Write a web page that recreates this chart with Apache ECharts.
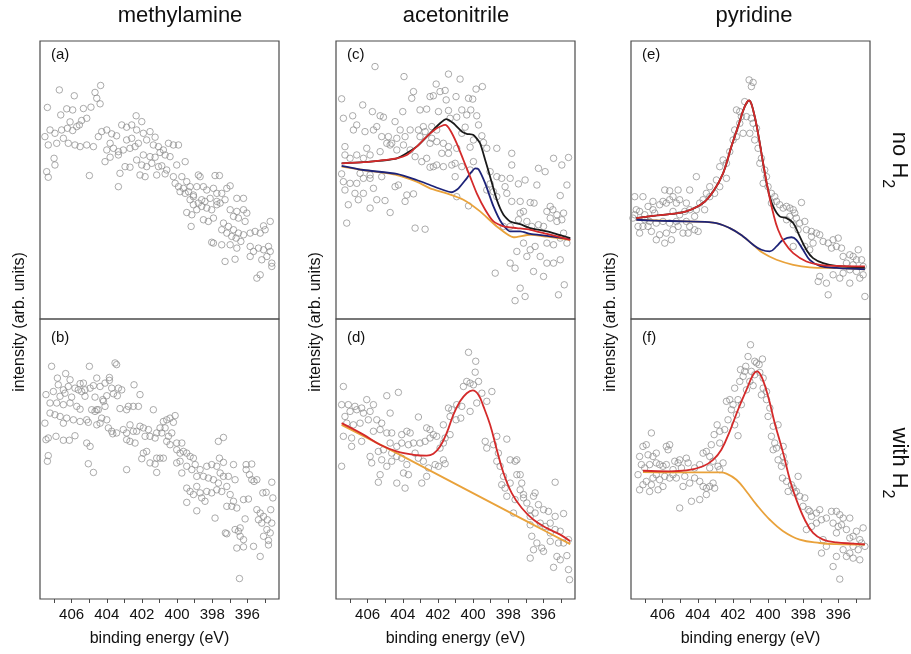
<!DOCTYPE html>
<html>
<head>
<meta charset="utf-8">
<script src="https://cdn.jsdelivr.net/npm/echarts@6/dist/echarts.min.js"></script>
<style>
  html, body { margin: 0; background: #fff; }
  #chart { width: 911px; height: 654px; }
</style>
</head>
<body>
<div id="chart"></div>
<script>
// binding energy axis (eV), drawn high -> low
const xMin = 394.2;
const xMax = 407.8;
const tickLabels = [396, 398, 400, 402, 404, 406];
const tickMarks = [395, 396, 397, 398, 399, 400, 401, 402, 403, 404, 405, 406, 407];
const columnTitles = ['methylamine', 'acetonitrile', 'pyridine'];
const panelLetters = ['(a)', '(b)', '(c)', '(d)', '(e)', '(f)'];
const rowLabels = ['no H', 'with H'];

// measured points [binding energy, intensity] per panel
const pointsA = [[406.70,82.4],[407.38,76.1],[405.85,80.3],[404.67,81.5],[404.35,84.0],[404.57,79.4],[404.38,77.4],[406.62,73.4],[406.28,75.6],[405.94,75.2],[405.33,75.7],[404.90,76.2],[405.14,72.2],[405.43,71.4],[405.56,69.8],[405.71,69.2],[406.09,70.9],[407.23,68.0],[406.95,66.8],[406.57,68.0],[406.24,68.6],[405.94,67.8],[407.52,65.6],[407.33,62.6],[406.85,63.2],[406.47,65.0],[406.19,63.2],[405.81,62.6],[405.52,62.0],[405.14,62.6],[404.76,62.0],[404.48,65.6],[404.29,67.4],[404.00,68.0],[403.72,66.6],[403.44,65.9],[403.15,69.8],[402.87,69.0],[402.58,69.8],[402.33,73.1],[402.01,71.0],[402.30,68.0],[401.92,66.8],[401.54,67.4],[401.25,65.4],[402.87,64.4],[402.58,65.0],[402.20,63.2],[403.81,63.2],[404.00,60.8],[403.62,61.4],[403.34,60.2],[403.06,60.8],[402.68,61.4],[402.39,62.0],[401.73,64.4],[401.35,62.6],[401.06,62.0],[400.78,60.8],[400.49,63.2],[400.21,62.6],[399.92,62.6],[400.68,59.0],[400.97,59.9],[401.25,58.2],[401.54,58.4],[401.92,59.0],[402.30,57.2],[402.01,55.4],[401.73,54.8],[401.44,56.0],[401.06,54.8],[400.87,55.1],[400.59,53.6],[400.40,58.4],[400.02,55.4],[399.54,56.6],[404.10,56.6],[403.81,58.2],[403.34,59.0],[403.25,52.4],[402.96,54.8],[402.68,54.6],[403.34,47.6],[404.99,51.6],[407.00,57.8],[406.95,55.4],[407.42,53.0],[407.33,51.0],[402.11,51.8],[401.82,51.2],[401.16,51.8],[400.68,52.2],[400.21,51.2],[399.73,51.2],[399.45,49.4],[399.26,47.6],[400.11,48.8],[399.92,47.6],[399.64,47.0],[399.83,45.8],[399.54,45.2],[399.35,45.8],[399.07,44.6],[398.88,47.6],[398.69,51.2],[398.79,51.8],[398.50,47.6],[398.31,46.4],[397.93,47.0],[397.74,45.2],[397.84,51.6],[397.59,51.6],[397.46,45.2],[397.17,47.0],[396.98,47.9],[396.60,43.4],[396.22,43.4],[399.07,44.0],[399.26,42.9],[398.79,41.7],[398.60,42.9],[398.41,42.3],[398.12,43.4],[397.74,42.3],[399.07,41.1],[398.88,39.3],[398.60,40.5],[398.31,39.9],[398.03,39.3],[397.74,41.1],[399.45,38.3],[399.16,37.5],[398.50,35.7],[398.22,35.1],[397.93,36.3],[397.55,41.7],[397.27,42.9],[396.98,39.3],[396.60,38.7],[396.22,39.3],[396.03,38.1],[396.79,36.9],[396.51,36.3],[396.13,35.1],[397.36,34.5],[397.08,33.3],[396.79,32.1],[396.51,30.9],[396.22,30.3],[395.84,30.9],[395.56,31.5],[395.27,30.9],[394.99,32.1],[394.70,35.1],[395.08,33.5],[397.46,32.1],[397.17,30.9],[396.89,29.7],[396.64,29.1],[396.37,27.9],[397.93,27.3],[397.46,26.7],[396.98,26.7],[396.60,25.5],[395.84,26.1],[395.65,24.3],[395.37,25.5],[395.08,24.9],[394.80,26.1],[394.89,22.5],[394.70,24.3],[394.61,20.1],[395.18,21.3],[395.84,22.5],[397.27,20.7],[396.70,21.5],[395.27,15.9],[395.46,14.7],[398.03,27.6],[399.20,33.3],[394.61,18.9]];

const pointsB = [[407.14,83.1],[404.99,83.1],[406.34,80.5],[406.81,78.9],[406.09,78.3],[405.52,76.9],[405.33,77.1],[404.57,78.9],[403.85,79.1],[403.53,84.3],[403.44,83.7],[403.85,78.1],[404.10,77.1],[404.38,75.9],[403.72,75.3],[403.34,75.3],[403.15,74.7],[402.45,76.5],[402.11,73.0],[406.76,76.5],[406.47,74.7],[406.19,75.9],[405.81,75.3],[405.62,74.7],[405.24,74.7],[404.95,75.3],[404.76,76.2],[407.04,74.1],[406.66,72.4],[406.38,73.5],[406.00,72.1],[405.43,74.1],[405.24,72.4],[404.67,72.1],[404.23,71.2],[404.00,72.6],[403.62,73.3],[403.40,72.6],[407.46,73.0],[407.23,70.0],[406.85,70.0],[406.47,69.4],[406.09,70.0],[405.71,68.8],[405.52,67.8],[404.86,67.6],[404.57,67.6],[404.19,70.6],[404.10,68.8],[403.25,68.0],[402.77,68.8],[402.49,68.8],[402.20,68.8],[407.23,66.4],[406.95,65.8],[406.66,65.2],[406.28,64.6],[405.90,64.0],[405.14,64.0],[404.67,67.0],[404.48,67.6],[404.29,64.6],[404.00,64.0],[407.52,62.8],[406.47,62.8],[405.52,63.4],[405.05,63.1],[404.57,62.2],[404.38,62.8],[403.91,61.1],[403.72,59.9],[402.87,67.6],[401.35,67.6],[400.59,64.0],[400.40,64.6],[400.11,65.5],[400.21,63.1],[400.78,63.4],[400.97,61.1],[401.16,59.3],[401.63,60.5],[401.92,61.1],[402.11,61.7],[402.68,62.2],[402.49,59.9],[402.30,59.9],[401.82,58.1],[401.54,58.1],[401.25,57.5],[400.87,59.3],[400.68,61.1],[400.30,59.3],[400.49,58.1],[400.02,55.7],[399.73,55.7],[400.40,55.1],[400.59,56.3],[400.78,50.3],[400.97,50.3],[401.16,50.3],[401.92,52.1],[401.73,52.7],[401.54,48.6],[401.25,48.2],[401.16,45.2],[402.01,50.1],[402.87,59.3],[403.06,60.5],[402.87,56.9],[402.68,56.3],[402.39,55.7],[402.87,46.2],[403.44,59.3],[403.66,59.0],[407.46,56.9],[407.33,57.5],[406.47,56.7],[406.13,56.7],[405.81,58.3],[406.89,58.1],[405.14,55.7],[404.95,54.5],[405.05,48.3],[404.76,45.2],[407.33,51.2],[407.38,49.2],[400.02,53.3],[399.83,52.1],[399.64,52.7],[399.45,52.1],[399.26,50.9],[399.07,50.3],[399.83,49.2],[400.02,48.6],[399.73,45.0],[399.45,47.4],[399.16,46.2],[398.88,43.8],[398.97,48.0],[398.69,46.2],[398.31,47.4],[398.03,48.0],[397.74,47.4],[397.55,45.0],[397.36,43.8],[397.08,43.8],[396.79,48.0],[398.50,43.8],[398.22,43.2],[397.93,42.6],[397.65,41.4],[399.45,39.6],[399.26,38.4],[399.07,37.3],[398.88,40.2],[398.69,37.9],[398.60,36.1],[398.41,34.9],[398.31,38.4],[398.03,37.9],[397.74,39.0],[397.46,38.4],[399.45,34.5],[398.88,31.5],[397.84,28.9],[397.65,56.3],[397.36,57.7],[397.59,50.3],[397.36,48.8],[397.17,40.2],[396.98,37.3],[397.17,33.1],[396.89,33.1],[396.70,42.6],[396.79,34.9],[396.60,32.5],[396.07,48.0],[395.75,48.2],[396.07,46.2],[395.88,44.4],[395.75,42.6],[395.62,42.0],[395.46,42.6],[396.22,35.5],[395.94,35.7],[395.12,37.9],[394.93,38.1],[394.61,41.7],[394.55,36.1],[394.67,31.9],[395.46,31.9],[395.27,30.7],[395.08,29.5],[394.86,28.3],[394.61,27.1],[395.37,28.3],[395.18,27.1],[394.89,24.8],[394.70,23.6],[396.70,24.8],[396.51,24.2],[396.41,25.4],[396.13,28.6],[396.41,22.4],[396.22,21.2],[396.60,18.2],[396.22,18.6],[395.65,18.8],[395.08,22.4],[394.80,20.9],[394.80,19.3],[395.27,15.2],[396.45,7.3],[397.25,23.6],[397.17,23.3]];

const pointsC = [[405.58,90.8],[403.93,87.2],[401.40,88.1],[400.74,86.3],[402.10,84.5],[401.59,82.2],[401.88,81.8],[403.39,81.8],[403.49,79.4],[402.45,80.0],[402.26,80.3],[401.53,78.8],[400.97,80.0],[400.26,79.4],[400.02,79.1],[399.83,82.7],[399.47,83.6],[407.48,79.2],[406.28,77.0],[405.73,74.6],[405.29,73.1],[405.10,72.6],[404.00,74.6],[404.44,71.0],[403.02,75.2],[402.64,75.5],[401.97,74.6],[401.40,75.0],[400.64,75.2],[400.13,75.2],[400.36,73.4],[400.93,72.6],[401.31,72.2],[399.79,73.1],[407.38,72.2],[406.85,73.1],[406.62,69.8],[405.48,69.2],[405.67,68.0],[406.15,67.4],[406.81,68.0],[405.20,65.6],[404.82,65.6],[404.91,63.2],[404.63,63.2],[404.34,65.0],[404.15,68.0],[403.87,65.6],[403.58,68.0],[402.83,69.2],[402.35,69.2],[402.07,68.0],[400.64,66.8],[400.45,69.0],[399.69,69.8],[399.50,65.9],[399.41,63.5],[399.98,64.4],[400.17,61.8],[400.93,61.4],[401.40,62.0],[401.69,63.2],[402.07,63.8],[402.45,63.2],[403.02,65.6],[403.11,68.0],[402.73,67.4],[402.35,65.0],[407.29,62.0],[406.62,59.0],[406.05,61.4],[405.86,59.0],[406.24,57.8],[407.00,57.8],[407.29,59.0],[405.29,60.2],[404.72,62.6],[404.34,60.8],[403.96,62.6],[403.58,60.8],[403.30,58.4],[402.92,56.6],[402.64,57.8],[401.78,59.6],[401.40,59.6],[401.69,54.8],[402.26,54.8],[402.07,55.4],[402.45,54.6],[401.21,55.4],[401.02,56.0],[400.64,54.8],[399.98,56.6],[399.22,61.4],[398.65,61.4],[397.80,59.6],[397.80,55.4],[399.03,53.0],[398.65,51.2],[398.37,50.6],[399.03,48.6],[399.22,46.4],[398.84,45.8],[398.65,44.0],[398.18,47.6],[398.08,45.2],[397.89,50.6],[397.42,48.6],[397.04,50.0],[396.37,48.2],[396.28,54.2],[395.90,53.0],[395.42,57.8],[394.95,55.4],[394.57,58.1],[394.66,48.2],[395.04,44.4],[395.61,40.5],[395.80,38.7],[395.46,39.3],[395.23,37.5],[394.85,38.1],[396.53,41.7],[396.75,41.9],[397.13,38.7],[397.32,38.1],[397.42,35.7],[397.32,42.3],[397.89,33.3],[398.27,33.3],[397.80,42.3],[403.30,32.7],[402.73,32.3],[404.72,38.3],[405.86,39.9],[406.53,42.9],[407.10,41.1],[407.19,34.5],[407.38,49.4],[407.00,48.8],[406.62,48.8],[406.24,50.6],[405.86,50.6],[405.20,51.2],[407.29,46.4],[406.72,45.2],[406.24,45.2],[405.67,47.0],[405.48,42.9],[405.01,42.6],[404.44,47.6],[404.25,48.2],[403.77,44.6],[403.39,45.0],[403.87,42.3],[400.93,44.0],[400.26,40.7],[401.02,51.2],[400.17,53.6],[407.48,52.2],[406.43,52.4],[405.86,51.8],[396.94,35.1],[396.66,33.3],[396.28,33.9],[395.99,33.3],[395.61,36.3],[395.23,35.1],[394.95,35.7],[394.85,30.9],[395.80,27.3],[395.42,26.7],[395.04,29.1],[394.66,27.3],[397.13,27.3],[396.75,24.9],[396.47,26.1],[397.51,24.3],[396.94,22.5],[396.18,22.5],[395.80,20.1],[395.42,20.1],[395.04,21.3],[396.56,17.1],[395.99,15.3],[397.61,18.3],[397.89,20.1],[398.74,16.5],[397.32,11.1],[397.04,8.1],[397.61,6.6],[395.14,8.7],[394.81,12.3]];

const pointsD = [[400.26,88.1],[399.85,84.9],[399.88,81.0],[400.36,77.7],[400.17,77.1],[400.55,75.9],[399.98,76.5],[399.69,77.7],[398.93,74.1],[399.50,73.5],[399.22,70.6],[399.79,70.0],[400.17,67.0],[400.93,69.4],[400.64,68.8],[401.21,67.6],[401.40,68.2],[401.31,65.2],[400.97,64.0],[400.70,64.6],[407.38,75.9],[404.91,72.6],[404.25,73.8],[407.48,69.4],[407.10,69.4],[406.72,68.8],[406.34,68.2],[406.05,71.2],[405.67,69.4],[407.00,67.0],[406.62,67.6],[406.24,66.4],[405.86,67.0],[405.48,64.0],[405.20,62.8],[407.29,65.2],[407.19,62.8],[406.81,62.2],[406.43,62.8],[405.96,64.0],[407.38,58.1],[406.91,57.5],[406.91,54.5],[406.34,56.3],[405.67,59.9],[405.29,60.5],[404.91,59.3],[404.63,59.3],[404.72,66.4],[404.06,58.7],[403.77,59.9],[403.58,59.3],[403.11,65.0],[402.64,61.1],[402.45,60.5],[402.26,58.7],[402.07,58.1],[401.69,62.2],[401.59,57.5],[401.31,58.7],[401.69,55.7],[401.88,53.9],[402.45,57.5],[402.73,56.3],[403.02,55.7],[403.39,55.7],[403.68,55.1],[404.06,55.7],[404.34,54.5],[404.72,55.7],[405.10,53.3],[405.39,52.7],[405.86,50.9],[405.77,48.6],[405.20,49.7],[404.63,52.1],[404.34,50.9],[404.63,49.2],[404.06,50.3],[403.77,48.0],[403.96,45.0],[403.68,44.4],[404.34,41.4],[403.87,39.6],[405.29,44.4],[405.39,41.7],[404.91,47.4],[403.30,52.1],[403.11,50.3],[402.83,49.2],[402.54,46.8],[402.64,43.8],[402.92,41.4],[402.16,48.0],[401.97,47.4],[401.69,49.7],[401.59,48.3],[399.22,53.9],[399.31,56.3],[398.84,55.1],[398.65,58.1],[398.08,57.1],[398.56,52.1],[398.65,49.2],[398.46,47.4],[398.27,43.8],[398.37,40.8],[398.18,39.6],[397.89,41.4],[397.89,49.7],[397.61,49.2],[397.51,49.7],[398.08,36.7],[397.61,35.5],[397.32,39.0],[397.13,37.3],[397.51,44.4],[397.32,44.4],[397.23,41.4],[397.13,36.1],[397.70,30.7],[396.94,34.3],[396.75,31.9],[396.56,36.7],[396.47,37.9],[396.75,29.5],[396.47,30.7],[396.28,33.7],[395.99,31.9],[395.71,31.3],[396.18,27.1],[395.90,25.9],[395.61,27.1],[395.33,29.5],[395.61,23.6],[395.33,24.8],[395.04,24.2],[394.85,30.5],[395.33,41.7],[396.75,26.5],[396.66,22.4],[396.37,20.0],[396.09,18.2],[396.56,17.6],[395.99,17.0],[395.61,20.6],[395.14,20.0],[394.85,20.0],[394.57,21.2],[395.23,15.2],[395.04,14.0],[396.75,14.6],[395.42,11.3],[394.66,15.5],[394.57,10.5],[394.51,6.9],[407.48,47.4]];

const pointsE = [[401.08,86.0],[400.85,85.1],[400.95,83.6],[401.33,78.2],[401.61,74.6],[401.80,75.2],[401.52,72.8],[401.23,72.8],[400.95,72.2],[400.85,70.4],[400.66,68.6],[401.61,70.4],[401.90,68.0],[401.80,65.6],[401.99,64.4],[401.42,66.8],[401.04,66.8],[400.76,64.4],[400.57,61.4],[400.38,57.8],[400.47,56.0],[400.19,53.6],[400.09,51.2],[400.28,48.8],[400.00,47.6],[399.81,45.2],[399.62,44.0],[399.81,41.7],[399.52,42.3],[399.34,41.1],[399.14,39.9],[398.95,40.5],[398.76,39.9],[398.57,39.3],[398.10,41.9],[398.48,38.1],[398.76,36.9],[398.39,36.3],[398.95,35.7],[398.57,33.9],[398.20,34.5],[397.91,35.1],[398.29,32.1],[397.82,32.1],[397.53,31.5],[397.25,30.9],[397.53,29.7],[397.06,30.3],[396.87,27.9],[396.58,27.3],[396.30,28.5],[396.01,29.1],[396.39,25.5],[396.11,26.1],[395.82,25.5],[395.73,22.5],[395.35,23.1],[395.16,22.5],[394.87,24.9],[394.97,21.3],[394.68,21.3],[394.59,18.9],[395.16,19.5],[395.54,20.1],[395.35,17.7],[394.97,17.1],[394.59,15.9],[395.73,16.5],[395.92,14.7],[396.30,15.9],[396.68,12.9],[397.06,15.3],[397.15,13.5],[396.58,8.7],[394.78,14.7],[394.49,8.1],[395.35,12.9],[398.57,26.1],[397.91,26.1],[397.63,24.9],[397.44,27.3],[402.18,60.2],[402.56,57.2],[402.75,54.8],[402.37,56.0],[402.37,50.6],[402.94,50.0],[402.75,47.6],[403.04,45.2],[403.32,44.0],[403.51,45.2],[403.32,47.6],[403.70,42.9],[403.89,41.7],[404.08,39.3],[403.61,39.3],[404.18,36.9],[404.46,39.3],[404.08,51.2],[404.46,46.4],[404.65,41.7],[404.74,38.7],[405.03,42.9],[405.22,41.7],[405.41,44.0],[405.60,42.9],[405.79,41.7],[405.98,42.3],[406.17,41.1],[406.55,39.3],[406.45,38.1],[406.83,40.5],[407.12,44.0],[407.31,38.7],[407.50,39.3],[407.59,37.5],[407.02,35.7],[406.74,35.1],[406.36,34.5],[405.98,35.1],[405.60,34.5],[405.22,35.1],[405.41,38.7],[405.03,37.5],[404.65,35.1],[404.46,33.3],[404.18,32.1],[403.98,31.5],[404.55,30.9],[404.84,30.9],[405.12,33.3],[405.41,32.1],[405.79,30.9],[406.17,30.3],[406.64,31.5],[406.83,33.3],[407.12,33.3],[407.31,30.9],[406.36,28.5],[405.88,27.3],[405.50,28.5],[407.02,37.5],[407.40,33.3],[407.69,36.3],[407.59,44.0],[405.12,46.4],[405.88,46.4],[405.60,46.1],[406.55,42.3]];

const pointsF = [[401.00,90.8],[401.14,86.6],[400.76,84.9],[400.66,84.3],[400.32,85.7],[400.51,83.7],[401.27,83.1],[401.57,81.9],[401.33,81.3],[400.95,81.3],[400.76,80.1],[400.47,80.9],[400.28,78.9],[401.42,79.5],[401.61,77.7],[401.04,77.7],[400.85,76.2],[400.28,75.3],[400.09,74.1],[400.38,72.9],[401.90,75.3],[401.23,74.7],[402.18,71.2],[401.71,71.2],[401.99,69.4],[402.37,70.6],[401.52,69.4],[402.09,67.6],[401.80,65.8],[402.28,64.0],[401.90,62.2],[401.71,58.3],[402.47,60.5],[402.75,59.9],[403.07,58.7],[402.90,62.2],[400.09,71.2],[399.90,68.2],[400.00,65.2],[399.43,62.2],[399.71,61.7],[399.81,58.1],[399.62,55.7],[399.71,53.3],[399.52,53.9],[399.14,54.5],[399.14,50.9],[399.05,48.6],[399.43,49.7],[399.24,47.4],[399.18,43.2],[398.95,42.0],[398.67,40.8],[398.86,38.4],[398.57,39.6],[398.29,43.8],[398.48,37.9],[398.20,36.7],[397.91,36.1],[398.39,38.4],[397.72,31.9],[398.01,33.1],[397.63,31.3],[397.53,29.5],[397.25,30.7],[397.06,31.9],[396.96,28.3],[396.68,28.9],[397.25,27.1],[397.53,25.9],[397.82,24.8],[396.39,31.3],[396.11,31.3],[395.92,30.1],[395.73,28.9],[395.35,28.9],[396.30,27.1],[396.01,25.9],[396.11,23.6],[395.82,26.5],[395.54,24.8],[395.35,21.8],[395.16,22.4],[394.97,24.2],[394.78,21.2],[394.59,25.4],[395.16,18.8],[394.87,17.6],[394.68,20.0],[394.49,18.8],[396.87,21.2],[396.68,18.8],[396.96,16.4],[396.11,15.2],[395.73,17.6],[395.54,15.2],[395.35,16.4],[395.16,14.6],[394.78,14.0],[396.30,11.6],[395.92,7.1],[405.60,55.1],[405.79,54.5],[405.69,53.3],[406.64,59.3],[406.93,55.1],[407.12,54.5],[406.83,51.5],[406.55,50.9],[406.36,52.1],[407.31,50.9],[407.21,48.0],[407.02,46.8],[406.74,48.0],[406.36,48.6],[406.17,48.0],[405.98,47.4],[405.79,48.0],[405.31,49.2],[405.12,48.6],[405.03,49.7],[404.65,50.3],[404.55,48.6],[405.41,46.2],[404.93,46.8],[404.18,46.8],[403.89,48.0],[403.70,52.1],[403.51,52.7],[403.32,50.9],[403.13,49.2],[402.85,47.4],[402.75,46.2],[402.56,48.6],[403.32,46.8],[407.40,44.4],[407.31,39.0],[406.93,42.0],[406.55,43.2],[406.36,44.4],[406.17,42.6],[405.88,43.8],[405.60,43.2],[405.41,44.4],[405.22,43.2],[404.74,43.8],[404.84,40.2],[404.46,41.4],[404.18,43.2],[403.89,42.0],[403.70,40.2],[403.51,39.6],[403.32,40.2],[403.13,41.4],[403.04,39.6],[405.03,32.5],[404.36,34.9],[403.89,35.5],[403.51,37.3],[406.26,39.0],[406.74,38.4],[407.12,40.8],[406.64,40.8],[405.98,40.2],[402.75,55.7],[403.23,55.1]];

// fitted curves
const bgC = [[407.48,54.8],[406.24,53.6],[404.34,51.8],[403.21,49.4],[402.45,47.0],[401.50,45.2],[400.55,42.9],[399.60,38.7],[398.65,33.3],[397.70,29.4],[396.75,30.3],[395.80,29.6],[394.47,28.5]];
const compC = [[407.48,55.1],[406.24,53.6],[404.34,52.2],[403.21,50.0],[402.45,48.2],[401.69,46.4],[401.21,45.6],[400.83,47.0],[400.36,50.6],[399.88,54.2],[399.69,53.9],[399.31,48.8],[398.84,40.5],[398.37,34.5],[397.89,31.5],[397.32,31.5],[396.75,30.6],[395.80,29.9],[394.47,28.7]];
const peakC = [[407.48,56.0],[406.24,56.4],[405.29,57.0],[404.34,57.8],[403.77,59.0],[403.21,62.0],[402.64,65.6],[402.07,68.6],[401.59,69.8],[401.31,68.0],[400.93,63.2],[400.55,57.2],[400.17,51.2],[399.79,45.2],[399.31,39.3],[398.84,35.1],[398.27,33.3],[397.51,32.7],[396.75,32.1],[395.80,30.6],[394.47,28.5]];
const sumC = [[407.48,56.0],[406.24,56.4],[404.34,57.8],[403.21,62.0],[402.45,66.8],[401.88,70.4],[401.53,71.9],[401.12,70.4],[400.64,67.4],[400.36,66.6],[399.98,66.2],[399.60,63.2],[399.31,57.2],[399.03,51.2],[398.65,42.9],[398.27,37.5],[397.89,35.1],[397.32,34.1],[396.75,32.7],[395.80,31.5],[394.47,29.1]];

const bgD = [[407.48,62.2],[404.34,52.1],[400.55,39.6],[396.75,27.1],[394.47,19.6]];
const peakD = [[407.48,62.8],[406.24,58.7],[405.29,55.1],[404.34,52.7],[403.39,51.5],[402.64,51.2],[402.26,51.9],[401.88,54.5],[401.50,59.3],[401.12,65.8],[400.74,70.6],[400.36,73.5],[400.02,74.5],[399.69,72.9],[399.41,68.8],[399.03,62.2],[398.65,53.3],[398.27,45.0],[397.80,37.8],[397.23,32.5],[396.56,28.3],[395.80,25.3],[395.04,23.0],[394.47,20.6]];

const bgE = [[407.50,35.7],[404.65,35.1],[403.13,34.7],[402.18,32.7],[401.42,29.7],[400.85,26.7],[400.28,23.7],[399.52,21.3],[398.57,19.5],[397.63,18.6],[396.11,18.3],[394.49,17.9]];
const compE = [[407.50,35.7],[406.55,35.4],[404.65,35.1],[403.13,34.7],[402.18,32.7],[401.42,29.7],[400.85,26.7],[400.38,24.9],[399.90,24.3],[399.52,26.1],[399.14,28.5],[398.67,29.4],[398.39,28.5],[398.01,24.9],[397.63,21.3],[397.06,19.1],[396.11,18.4],[394.49,17.9]];
const peakE = [[407.50,36.3],[406.55,37.1],[405.60,37.7],[404.65,38.7],[403.70,41.7],[403.13,45.8],[402.56,52.4],[402.09,62.0],[401.71,69.2],[401.33,76.4],[401.08,78.6],[400.85,75.2],[400.57,66.8],[400.28,56.0],[400.00,46.4],[399.71,38.1],[399.43,32.1],[399.05,27.3],[398.57,23.7],[397.82,20.7],[397.06,19.5],[396.11,19.1],[394.49,18.9]];
const sumE = [[407.50,36.3],[406.55,37.1],[405.60,37.7],[404.65,38.7],[403.70,41.7],[403.13,45.8],[402.56,52.4],[402.09,62.0],[401.71,69.2],[401.33,76.4],[401.08,78.6],[400.85,75.2],[400.57,66.8],[400.28,56.0],[400.00,46.4],[399.71,40.5],[399.34,36.9],[398.95,36.3],[398.57,34.5],[398.20,29.7],[397.82,24.9],[397.44,21.9],[396.87,20.1],[396.11,19.1],[394.49,18.6]];

const bgF = [[407.12,45.3],[405.60,45.2],[403.70,45.2],[402.75,45.2],[402.37,44.8],[401.80,42.6],[401.23,38.4],[400.66,33.7],[399.90,28.3],[399.14,24.2],[398.20,21.2],[397.06,20.0],[396.11,19.6],[394.49,19.4]];
const peakF = [[407.12,45.8],[405.60,45.6],[404.65,45.9],[403.70,47.4],[403.13,49.7],[402.66,53.3],[402.18,59.9],[401.71,67.6],[401.23,74.7],[400.85,80.1],[400.63,81.3],[400.38,79.5],[400.00,72.4],[399.62,62.8],[399.14,52.1],[398.76,42.6],[398.39,35.5],[397.91,28.3],[397.44,23.6],[396.87,21.2],[396.11,20.2],[395.16,19.8],[394.49,19.5]];

const FONT = 'Liberation Sans, Arial, sans-serif';
const colLeft = [40, 336, 631];
const colWidth = 239;
const rowTop = [41, 319];
const rowHeight = [278, 280];

const COLORS = { bg: '#e9a23b', comp: '#1d2378', peak: '#d42a2a', sum: '#1a1a1a' };

const chart = echarts.init(document.getElementById('chart'));

const grids = [], xAxes = [], yAxes = [];
for (let c = 0; c < 3; c++) {
  for (let r = 0; r < 2; r++) {
    const bottom = r === 1;
    grids.push({
      left: colLeft[c], top: rowTop[r], width: colWidth, height: rowHeight[r],
      show: true, borderColor: '#4a4a4a', borderWidth: 1.2, backgroundColor: 'transparent'
    });
    const gi = grids.length - 1;
    xAxes.push({
      type: 'value', gridIndex: gi, min: xMin, max: xMax, inverse: true,
      splitLine: { show: false },
      axisLine: { show: false },
      axisTick: bottom
        ? { show: true, customValues: tickMarks, length: 4, lineStyle: { color: '#4a4a4a', width: 1 } }
        : { show: false },
      axisLabel: bottom
        ? { show: true, customValues: tickLabels, margin: 8, fontSize: 15, color: '#111', fontFamily: FONT }
        : { show: false },
      name: bottom ? 'binding energy (eV)' : '',
      nameLocation: 'middle', nameGap: 32,
      nameTextStyle: { fontSize: 16, color: '#111', fontFamily: FONT }
    });
    yAxes.push({
      type: 'value', gridIndex: gi, min: 0, max: 100,
      axisLine: { show: false }, axisTick: { show: false },
      axisLabel: { show: false }, splitLine: { show: false }
    });
  }
}

function scatter(gi, data) {
  return {
    type: 'scatter', xAxisIndex: gi, yAxisIndex: gi, data: data,
    symbol: 'circle', symbolSize: 6.5, silent: true,
    itemStyle: { color: 'rgba(0,0,0,0)', borderColor: '#8a8a8a', borderWidth: 0.9 }
  };
}
function curve(gi, data, color, smooth) {
  return {
    type: 'line', xAxisIndex: gi, yAxisIndex: gi, data: data,
    showSymbol: false, smooth: smooth, silent: true,
    lineStyle: { color: color, width: 1.8 }
  };
}

const series = [
  scatter(0, pointsA),
  scatter(1, pointsB),
  scatter(2, pointsC),
  curve(2, bgC, COLORS.bg, 0.2),
  curve(2, compC, COLORS.comp, 0.2),
  curve(2, sumC, COLORS.sum, 0.2),
  curve(2, peakC, COLORS.peak, 0.2),
  scatter(3, pointsD),
  curve(3, bgD, COLORS.bg, 0.3),
  curve(3, peakD, COLORS.peak, 0.4),
  scatter(4, pointsE),
  curve(4, bgE, COLORS.bg, 0.4),
  curve(4, compE, COLORS.comp, 0.4),
  curve(4, sumE, COLORS.sum, 0.4),
  curve(4, peakE, COLORS.peak, 0.4),
  scatter(5, pointsF),
  curve(5, bgF, COLORS.bg, 0.4),
  curve(5, peakF, COLORS.peak, 0.4)
];

// title x centres (methylamine sits a little right of its panel centre)
const titleX = [180, 456, 754];

const graphic = [];
columnTitles.forEach((t, c) => {
  graphic.push({
    type: 'text', x: titleX[c], y: 16,
    style: { text: t, fontSize: 22, fill: '#111', fontFamily: FONT, align: 'center', verticalAlign: 'middle' }
  });
  graphic.push({
    type: 'text', x: colLeft[c] - 20, y: 322, rotation: Math.PI / 2,
    style: { text: 'intensity (arb. units)', fontSize: 16, fill: '#111', fontFamily: FONT, align: 'center', verticalAlign: 'middle' }
  });
});
panelLetters.forEach((t, i) => {
  const c = Math.floor(i / 2), r = i % 2;
  graphic.push({
    type: 'text', x: colLeft[c] + 11, y: r === 0 ? 55 : 338,
    style: { text: t, fontSize: 15, fill: '#111', fontFamily: FONT, align: 'left', verticalAlign: 'middle' }
  });
});
rowLabels.forEach((t, r) => {
  graphic.push({
    type: 'text', x: 897, y: r === 0 ? 160 : 463, rotation: -Math.PI / 2,
    style: {
      text: '{n|' + t + '}{s|2}', align: 'center', verticalAlign: 'middle',
      rich: {
        n: { fontSize: 22, lineHeight: 26, fill: '#111', fontFamily: FONT, verticalAlign: 'top' },
        s: { fontSize: 16, lineHeight: 18, fill: '#111', fontFamily: FONT, verticalAlign: 'top', padding: [15, 0, 0, 1] }
      }
    }
  });
});

chart.setOption({
  animation: false,
  backgroundColor: '#fff',
  grid: grids,
  xAxis: xAxes,
  yAxis: yAxes,
  series: series,
  graphic: graphic
});
</script>
</body>
</html>
